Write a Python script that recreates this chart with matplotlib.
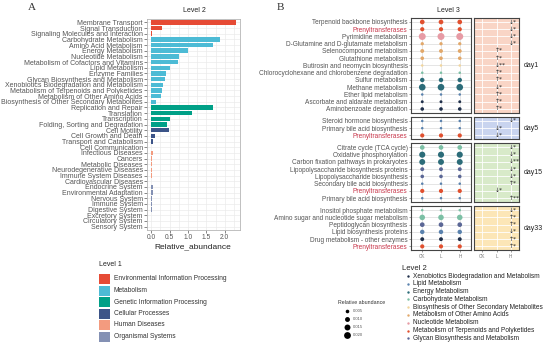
import matplotlib
matplotlib.use('Agg')
import matplotlib.pyplot as plt
from matplotlib.patches import Rectangle

plt.rcParams['font.family'] = ['Liberation Sans', 'DejaVu Sans']

# ---------------- panel A data ----------------
level1_names = ['Environmental Information Processing', 'Metabolism',
                'Genetic Information Processing', 'Cellular Processes',
                'Human Diseases', 'Organismal Systems']
level1_colors = ['#E64B35', '#4DBBD5', '#00A087', '#3C5488', '#F39B7F', '#8491B4']

pathway_names = ['Membrane Transport', 'Signal Transduction', 'Signaling Molecules and Interaction',
                 'Carbohydrate Metabolism', 'Amino Acid Metabolism', 'Energy Metabolism',
                 'Nucleotide Metabolism', 'Metabolism of Cofactors and Vitamins', 'Lipid Metabolism',
                 'Enzyme Families', 'Glycan Biosynthesis and Metabolism',
                 'Xenobiotics Biodegradation and Metabolism', 'Metabolism of Terpenoids and Polyketides',
                 'Metabolism of Other Amino Acids', 'Biosynthesis of Other Secondary Metabolites',
                 'Replication and Repair', 'Translation', 'Transcription',
                 'Folding, Sorting and Degradation', 'Cell Motility', 'Cell Growth and Death',
                 'Transport and Catabolism', 'Cell Communication', 'Infectious Diseases', 'Cancers',
                 'Metabolic Diseases', 'Neurodegenerative Diseases', 'Immune System Diseases',
                 'Cardiovascular Diseases', 'Endocrine System', 'Environmental Adaptation',
                 'Nervous System', 'Immune System', 'Digestive System', 'Excretory System',
                 'Circulatory System', 'Sensory System']
pathway_abund = [2.30, 0.30, 0.03, 1.86, 1.68, 1.00, 0.76, 0.73, 0.51, 0.40, 0.38, 0.32, 0.30,
                 0.27, 0.14, 1.68, 1.10, 0.51, 0.43, 0.48, 0.10, 0.05, 0.005, 0.06, 0.01, 0.01,
                 0.01, 0.01, 0.005, 0.05, 0.04, 0.01, 0.01, 0.01, 0.005, 0.005, 0.003]
pathway_level1 = [0, 0, 0] + [1] * 12 + [2] * 4 + [3] * 4 + [4] * 6 + [5] * 8

# ---------------- panel B data ----------------
groups = ['CK', 'L', 'H']
days = ['day1', 'day5', 'day15', 'day33']
day_colors = ['#F9D5C6', '#C9D4EF', '#D8EAC9', '#FCE6B7']

l2_names = ['Xenobiotics Biodegradation and Metabolism', 'Lipid Metabolism', 'Energy Metabolism',
            'Carbohydrate Metabolism', 'Biosynthesis of Other Secondary Metabolites',
            'Metabolism of Other Amino Acids', 'Nucleotide Metabolism',
            'Metabolism of Terpenoids and Polyketides', 'Glycan Biosynthesis and Metabolism']
l2_colors = ['#1F2F4A', '#5A82AE', '#2C6C79', '#7CC0A5', '#F1D59C', '#E2A86A', '#E79BA5',
             '#E1502F', '#5B6796']

day1_paths = ['Terpenoid backbone biosynthesis', 'Prenyltransferases', 'Pyrimidine metabolism',
              'D-Glutamine and D-glutamate metabolism', 'Selenocompound metabolism',
              'Glutathione metabolism', 'Butirosin and neomycin biosynthesis',
              'Chlorocyclohexane and chlorobenzene degradation', 'Sulfur metabolism',
              'Methane metabolism', 'Ether lipid metabolism', 'Ascorbate and aldarate metabolism',
              'Aminobenzoate degradation']
day1_l2 = [7, 7, 6, 5, 5, 5, 4, 3, 2, 2, 1, 0, 0]
day1_abund = [0.009, 0.007, 0.021, 0.004, 0.006, 0.005, 0.002, 0.002, 0.008, 0.019, 0.002,
              0.003, 0.005]
day1_sig = ['↓*', '↓*', '↓*', '↓*', '↑*', '↑*', '↓**', '↑*', '↑*', '↓*', '↑*', '↑*', '↑*']
day1_sig_col = [2, 2, 2, 2, 1, 1, 1, 1, 1, 1, 1, 1, 1]

day5_paths = ['Steroid hormone biosynthesis', 'Primary bile acid biosynthesis', 'Prenyltransferases']
day5_l2 = [1, 1, 7]
day5_abund = [0.002, 0.002, 0.007]
day5_sig = ['↓*', '↓*', '↓*']
day5_sig_col = [2, 1, 1]

day15_paths = ['Citrate cycle (TCA cycle)', 'Oxidative phosphorylation',
               'Carbon fixation pathways in prokaryotes', 'Lipopolysaccharide biosynthesis proteins',
               'Lipopolysaccharide biosynthesis', 'Secondary bile acid biosynthesis',
               'Prenyltransferases', 'Primary bile acid biosynthesis']
day15_l2 = [3, 2, 2, 8, 8, 1, 7, 1]
day15_abund = [0.009, 0.016, 0.015, 0.006, 0.005, 0.002, 0.007, 0.002]
day15_sig = ['↓*', '↓*', '↓**', '↓*', '↓*', '↑*', '↓*', '↑**']
day15_sig_col = [2, 2, 2, 2, 2, 2, 1, 2]

day33_paths = ['Inositol phosphate metabolism', 'Amino sugar and nucleotide sugar metabolism',
               'Peptidoglycan biosynthesis', 'Lipid biosynthesis proteins',
               'Drug metabolism - other enzymes', 'Prenyltransferases']
day33_l2 = [3, 3, 8, 1, 0, 7]
day33_abund = [0.002, 0.013, 0.009, 0.008, 0.006, 0.007]
day33_sig = ['↓*', '↑*', '↑*', '↓*', '↑*', '↑*']
day33_sig_col = [2, 2, 2, 2, 2, 2]

size_breaks = [0.005, 0.010, 0.015, 0.020]

W, H = 550, 345
fig = plt.figure(figsize=(W / 100, H / 100), dpi=100)


def add_ax(x0, y0, x1, y1):
    return fig.add_axes([x0 / W, 1 - y1 / H, (x1 - x0) / W, (y1 - y0) / H])


def dot_size(a):
    return 1 + 1150 * a


grey = '#555555'

# ---------------- panel A ----------------
axA = add_ax(147, 19, 240, 230)
n = len(pathway_names)
axA.barh(range(n), pathway_abund, height=0.8,
         color=[level1_colors[g] for g in pathway_level1], zorder=3)
axA.set_ylim(n - 0.4, -0.6)
axA.set_xlim(-0.115, 2.415)
axA.set_yticks(range(n))
axA.set_yticklabels(pathway_names, fontsize=5, color=grey)
axA.set_xticks([0, 0.5, 1, 1.5, 2])
axA.set_xticklabels(['0.0', '0.5', '1.0', '1.5', '2.0'], fontsize=4.8, color=grey)
axA.set_xticks([0.25, 0.75, 1.25, 1.75, 2.25], minor=True)
axA.grid(which='both', color='#EBEBEB', lw=0.5, zorder=0)
axA.tick_params(length=2, width=0.5, color=grey, pad=1)
axA.tick_params(which='minor', length=0)
for s in axA.spines.values():
    s.set_color('#B5B5B5')
    s.set_linewidth(0.6)

fig.text(194 / W, 1 - 11 / H, 'Level 2', fontsize=5, ha='center', va='center', color='#222222')
fig.text(193 / W, 1 - 247 / H, 'Relative_abundance', fontsize=6, ha='center', va='center',
         color='#222222')
fig.text(32 / W, 1 - 8 / H, 'A', fontsize=8, ha='center', va='center',
         family='Liberation Serif', color='#333333')
fig.text(280 / W, 1 - 8 / H, 'B', fontsize=8, ha='center', va='center',
         family='Liberation Serif', color='#333333')

# overlay in pixel coordinates for the legends
ov = fig.add_axes([0, 0, 1, 1], zorder=-1)
ov.set_xlim(0, W)
ov.set_ylim(H, 0)
ov.axis('off')

ov.text(99, 264, 'Level 1', fontsize=5, va='center', color='#222222')
for i, (name, c) in enumerate(zip(level1_names, level1_colors)):
    yc = 279 + i * 11.5
    ov.add_patch(Rectangle((99, yc - 5), 11, 10, color=c, lw=0))
    ov.text(114, yc, name, fontsize=4.8, va='center', color='#333333')

# ---------------- panel B ----------------
day_data = [
    (day1_paths, day1_l2, day1_abund, day1_sig, day1_sig_col),
    (day5_paths, day5_l2, day5_abund, day5_sig, day5_sig_col),
    (day15_paths, day15_l2, day15_abund, day15_sig, day15_sig_col),
    (day33_paths, day33_l2, day33_abund, day33_sig, day33_sig_col),
]

pitch, pad, gap = 7.25, 0.55, 4
top = 18
for k, (paths, l2, abund, sig, sig_col) in enumerate(day_data):
    nr = len(paths)
    bottom = top + (nr - 1 + 2 * pad) * pitch
    axd = add_ax(411, top, 471, bottom)
    axs = add_ax(474, top, 519, bottom)
    for ax in (axd, axs):
        ax.set_xlim(-0.6, 2.6)
        ax.set_ylim(nr - 1 + pad, -pad)
        ax.set_xticks(range(3))
        ax.set_yticks(range(nr))
        for s in ax.spines.values():
            s.set_color('#444444')
            s.set_linewidth(0.8)
        ax.tick_params(length=1.5, width=0.4, color=grey, pad=1)
    axd.grid(color='#DADADA', lw=0.5, zorder=0)
    axs.grid(color='white', lw=0.6, zorder=0)
    axs.set_facecolor(day_colors[k])
    axs.set_yticklabels([])
    axs.tick_params(axis='y', length=0)

    for j in range(3):
        axd.scatter([j] * nr, range(nr), s=[dot_size(a) for a in abund],
                    c=[l2_colors[i] for i in l2], lw=0, zorder=3)
    for r in range(nr):
        axs.text(sig_col[r] - 0.15, r, sig[r], fontsize=4.3, ha='left', va='center',
                 color='#222222', family=['DejaVu Sans'])

    axd.set_yticklabels(paths, fontsize=4.7)
    for lab in axd.get_yticklabels():
        lab.set_color('#C8374B' if lab.get_text() == 'Prenyltransferases' else grey)

    if k == len(day_data) - 1:
        for ax in (axd, axs):
            ax.set_xticklabels(groups, fontsize=3.3, color='#777777')
    else:
        for ax in (axd, axs):
            ax.set_xticklabels([])
            ax.tick_params(axis='x', length=0)

    fig.text(524 / W, 1 - (top + bottom) / 2 / H, days[k], fontsize=5, va='center',
             color='#222222')
    top = bottom + gap

fig.text(448 / W, 1 - 11 / H, 'Level 3', fontsize=5, ha='center', va='center', color='#222222')

# Level 2 legend
ov.text(402, 268, 'Level 2', fontsize=5.5, va='center', color='#222222')
for i, (name, c) in enumerate(zip(l2_names, l2_colors)):
    yc = 276 + i * 7.8
    ov.scatter([408], [yc], s=3, c=c, lw=0)
    ov.text(413, yc, name, fontsize=4.7, va='center', color='#222222')

# size legend
ov.text(362, 302, 'Relative abundance', fontsize=3.8, ha='center', va='center', color='#333333')
for i, b in enumerate(size_breaks):
    yc = 310.7 + i * 8
    ov.scatter([347], [yc], s=dot_size(b), c='black', lw=0)
    ov.text(353, yc, '%.3f' % b, fontsize=3, va='center', color='#555555')

fig.savefig('out.png', dpi=100)
